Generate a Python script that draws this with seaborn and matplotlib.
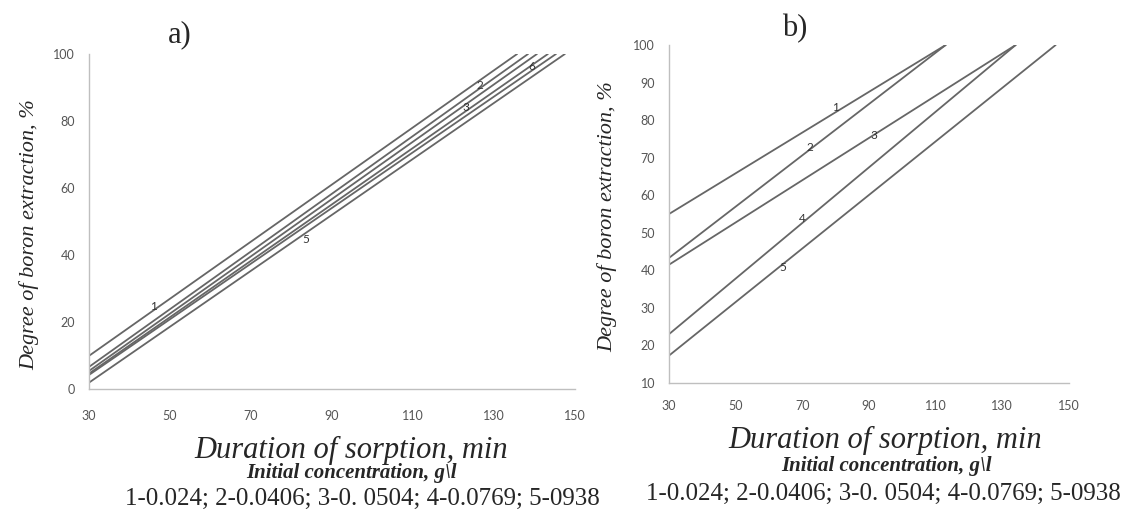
import numpy as np
import pandas as pd
import matplotlib
matplotlib.use("Agg")
import matplotlib.pyplot as plt
import seaborn as sns

# panel a) - straight lines, start value at t=30 and time where 100 % is reached
a_names = ["1", "2", "3", "4", "5", "6"]
a_start = [9.9, 6.6, 5.4, 4.6, 4.2, 1.9]
a_end_t = [135.7, 138.4, 140.6, 143.3, 145.3, 147.5]
a_lbl_text = ["1", "2", "3", "5", "6"]
a_lbl_x = [46, 126.5, 123, 83.4, 139.4]
a_lbl_y = [24.5, 90.5, 84, 44.5, 96.4]

# panel b)
b_names = ["1", "2", "3", "4", "5"]
b_start = [55, 43.3, 41.5, 23, 17.3]
b_end_t = [113, 113, 134, 134, 146]
b_lbl_text = ["1", "2", "3", "4", "5"]
b_lbl_x = [80, 72.3, 91.5, 70, 64]
b_lbl_y = [83.3, 72.7, 75.9, 53.7, 40.7]

x_ticks = [30, 50, 70, 90, 110, 130, 150]
a_yticks = [0, 20, 40, 60, 80, 100]
b_yticks = [10, 20, 30, 40, 50, 60, 70, 80, 90, 100]

xlabel = "Duration of sorption, min"
ylabel = "Degree of boron extraction, %"
conc_title = "Initial concentration, g\\l"
conc_list = "1-0.024; 2-0.0406; 3-0. 0504; 4-0.0769; 5-0938"


def to_frame(names, start, end_t):
    rows = []
    for n, s, e in zip(names, start, end_t):
        rows.append({"series": n, "t": 30, "degree": s})
        rows.append({"series": n, "t": e, "degree": 100})
    return pd.DataFrame(rows)


sns.set_style("white")
plt.rcParams["font.family"] = ["Liberation Serif", "DejaVu Serif"]

W, H = 1143, 519
fig = plt.figure(figsize=(W / 100, H / 100), dpi=100)
ax_a = fig.add_axes([89 / W, 1 - 389 / H, 486 / W, 335 / H])
ax_b = fig.add_axes([669 / W, 1 - 383 / H, 400 / W, 338 / H])

line_col = "#666666"
spine_col = "#bfbfbf"

panels = [
    (ax_a, to_frame(a_names, a_start, a_end_t), a_yticks, (0, 100),
     a_lbl_text, a_lbl_x, a_lbl_y, 15),
    (ax_b, to_frame(b_names, b_start, b_end_t), b_yticks, (10, 100),
     b_lbl_text, b_lbl_x, b_lbl_y, 12),
]

for ax, df, yt, ylim, lt, lx, ly, xpad in panels:
    sns.lineplot(data=df, x="t", y="degree", hue="series",
                 palette=[line_col] * df["series"].nunique(),
                 linewidth=1.3, legend=False, ax=ax, estimator=None)
    for t, x, y in zip(lt, lx, ly):
        ax.text(x, y, t, fontsize=8.5, color="#333333", family="Lato",
                ha="center", va="center")
    ax.set_xlim(30, 150)
    ax.set_ylim(*ylim)
    ax.set_xticks(x_ticks)
    ax.set_yticks(yt)
    ax.set_xlabel("")
    ax.set_ylabel("")
    for s in ["top", "right"]:
        ax.spines[s].set_visible(False)
    for s in ["left", "bottom"]:
        ax.spines[s].set_color(spine_col)
        ax.spines[s].set_linewidth(1.0)
    ax.tick_params(axis="both", direction="in", length=4, width=0.8,
                   color=spine_col, labelcolor="#555555", labelsize=9)
    ax.tick_params(axis="y", pad=10)
    ax.tick_params(axis="x", pad=xpad)
    for lab in ax.get_xticklabels() + ax.get_yticklabels():
        lab.set_family("Lato")


def ft(x, y, s, **kw):
    fig.text(x / W, 1 - y / H, s, ha="center", va="center", **kw)


ft(180, 35, "a)", fontsize=22)
ft(795, 29, "b)", fontsize=22)
ft(29, 235, ylabel, fontsize=16, style="italic", rotation=90)
ft(607, 217, ylabel, fontsize=16, style="italic", rotation=90)

ft(351, 450, xlabel, fontsize=22, style="italic")
ft(885, 440, xlabel, fontsize=22, style="italic")
ft(351, 473, conc_title, fontsize=15, style="italic", weight="bold")
ft(886, 466, conc_title, fontsize=15, style="italic", weight="bold")
ft(362, 499, conc_list, fontsize=18)
ft(883, 494, conc_list, fontsize=18)

fig.savefig("out.png", dpi=100)
